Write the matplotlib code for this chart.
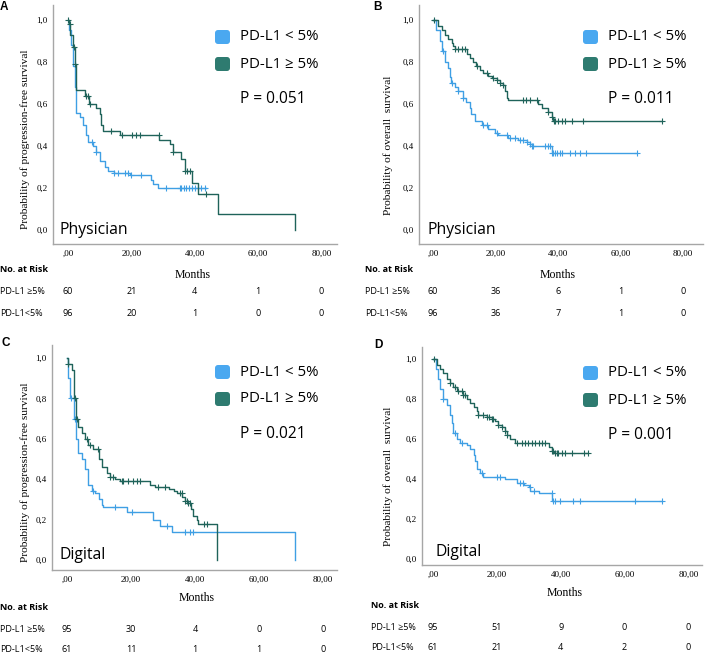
import numpy as np
import matplotlib.pyplot as plt
from matplotlib.patches import FancyBboxPatch
from matplotlib import transforms

W, H = 709, 657

LIGHT = '#3f9fe4'
DARK = '#1f635a'
SQ_LIGHT = '#4aa8f0'
SQ_DARK = '#2e7b70'
SANS = 'Open Sans'
SERIF = 'Liberation Serif'

# ---- data (time in months, survival from that time on) ----
# A: physician, PFS
a_hi_t = [0, 0.3, 0.8, 1.5, 2.1, 2.4, 2.6, 5.3, 6.8, 8.9, 10.0, 10.5, 11.05, 16.3, 28.9, 32.1, 33.2, 35.8, 36.8, 39.3, 41.05, 47.4, 71.6]
a_hi_s = [1, 0.98, 0.93, 0.87, 0.79, 0.72, 0.667, 0.64, 0.60, 0.58, 0.55, 0.50, 0.47, 0.45, 0.43, 0.41, 0.37, 0.34, 0.28, 0.225, 0.17, 0.075, 0.0]
a_hi_c = [0.1, 0.7, 1.8, 2.1, 5.6, 6.3, 7.0, 13.7, 17.2, 20.3, 21.6, 22.6, 28.7, 33.2, 36.8, 37.7, 38.4, 43.7]
a_lo_t = [0, 0.5, 1.0, 1.6, 2.1, 2.6, 3.7, 4.7, 5.8, 6.3, 7.9, 8.9, 10.0, 11.6, 12.6, 14.7, 19.5, 26.3, 26.8, 28.4, 43.7]
a_lo_s = [1, 0.95, 0.88, 0.78, 0.68, 0.556, 0.54, 0.50, 0.45, 0.42, 0.40, 0.37, 0.33, 0.30, 0.28, 0.27, 0.26, 0.24, 0.22, 0.20, 0.20]
a_lo_c = [7.7, 8.9, 14.7, 15.8, 17.9, 18.9, 20.0, 23.2, 31.1, 35.3, 35.8, 36.5, 37.4, 38.2, 39.2, 40.0, 41.1, 42.1, 43.2]

# B: physician, OS
b_hi_t = [0, 1.7, 2.8, 3.8, 4.9, 6.0, 6.5, 7.0, 10.8, 11.8, 12.9, 13.9, 15.0, 16.1, 17.7, 18.8, 20.4, 21.4, 22.5, 23.0, 23.6, 24.1, 33.7, 34.8, 36.9, 38.0, 38.5, 73.2]
b_hi_s = [1, 0.97, 0.95, 0.93, 0.91, 0.89, 0.875, 0.862, 0.84, 0.82, 0.80, 0.78, 0.76, 0.745, 0.735, 0.725, 0.715, 0.70, 0.69, 0.66, 0.63, 0.62, 0.60, 0.58, 0.56, 0.54, 0.52, 0.52]
b_hi_c = [0.3, 7.0, 8.1, 9.2, 10.2, 14.0, 17.2, 19.3, 20.4, 21.4, 22.5, 28.9, 29.9, 31.0, 33.2, 36.9, 38.0, 38.6, 39.0, 40.1, 41.2, 42.2, 44.4, 48.1, 73.2]
b_lo_t = [0, 0.8, 2.2, 2.8, 3.8, 4.9, 5.4, 5.9, 7.0, 8.1, 9.7, 10.7, 11.8, 12.3, 13.4, 15.6, 17.7, 19.8, 20.9, 24.1, 27.3, 30.0, 31.0, 31.6, 38.0, 65.2]
b_lo_s = [1, 0.95, 0.90, 0.85, 0.80, 0.77, 0.73, 0.70, 0.68, 0.66, 0.63, 0.61, 0.58, 0.55, 0.52, 0.50, 0.48, 0.46, 0.45, 0.44, 0.43, 0.42, 0.41, 0.40, 0.365, 0.365]
b_lo_c = [3.3, 6.0, 8.1, 9.7, 16.1, 17.2, 20.4, 23.6, 24.6, 26.2, 27.8, 28.9, 30.0, 31.0, 31.6, 32.1, 35.8, 36.9, 37.4, 38.1, 38.5, 39.0, 39.6, 40.6, 41.2, 43.8, 45.4, 47.0, 49.1, 65.2]

# C: digital, PFS
c_hi_t = [0, 0.4, 1.5, 2.3, 2.8, 3.5, 4.6, 5.6, 6.4, 8.1, 9.9, 10.9, 12.4, 13.4, 15.0, 16.6, 26.0, 27.6, 31.8, 33.4, 34.5, 35.9, 36.9, 37.9, 38.9, 39.5, 40.5, 41.0, 46.9]
c_hi_s = [1, 0.97, 0.94, 0.80, 0.70, 0.66, 0.63, 0.60, 0.57, 0.55, 0.50, 0.46, 0.43, 0.41, 0.40, 0.39, 0.37, 0.36, 0.35, 0.34, 0.33, 0.31, 0.29, 0.28, 0.25, 0.22, 0.20, 0.18, 0.0]
c_hi_c = [0.4, 2.5, 3.0, 6.1, 7.2, 9.8, 13.4, 14.5, 17.1, 17.6, 19.2, 20.7, 21.8, 22.8, 28.5, 30.6, 35.3, 35.8, 36.9, 37.4, 37.9, 38.4, 42.8, 43.9]
c_lo_t = [0, 0.4, 0.9, 2.2, 2.8, 3.5, 4.6, 5.6, 6.4, 6.7, 7.7, 8.8, 9.9, 10.8, 11.4, 18.6, 27.0, 29.0, 32.7, 71.3]
c_lo_s = [1, 0.90, 0.80, 0.70, 0.60, 0.53, 0.50, 0.45, 0.40, 0.37, 0.34, 0.33, 0.30, 0.27, 0.26, 0.24, 0.20, 0.17, 0.14, 0.0]
c_lo_c = [1.25, 2.5, 8.2, 15.0, 20.2, 31.1, 36.9, 38.4, 39.5]

# D: digital, OS
d_hi_t = [0, 1.1, 2.2, 3.2, 4.3, 5.3, 6.4, 7.4, 9.5, 10.5, 11.6, 12.7, 13.7, 14.2, 16.8, 18.4, 19.5, 20.5, 21.5, 22.6, 23.1, 24.2, 25.7, 36.2, 37.2, 37.8, 48.7]
d_hi_s = [1, 0.97, 0.95, 0.93, 0.90, 0.88, 0.86, 0.84, 0.82, 0.80, 0.78, 0.76, 0.74, 0.72, 0.71, 0.70, 0.69, 0.67, 0.66, 0.64, 0.62, 0.60, 0.58, 0.56, 0.54, 0.53, 0.53]
d_hi_c = [0.3, 5.3, 6.9, 7.9, 9.0, 9.5, 10.0, 14.2, 15.8, 16.8, 17.4, 18.4, 18.9, 20.5, 21.5, 22.6, 23.1, 26.3, 27.8, 28.9, 29.9, 31.0, 32.0, 33.1, 34.1, 35.1, 37.2, 37.7, 38.3, 38.8, 39.3, 40.4, 41.4, 43.5, 47.2, 48.7]
d_lo_t = [0, 0.8, 1.7, 2.2, 3.2, 4.3, 5.3, 5.9, 6.4, 7.4, 8.5, 10.6, 11.6, 12.7, 13.2, 13.7, 14.7, 15.8, 22.6, 26.3, 28.4, 30.0, 30.5, 33.1, 37.4, 71.8]
d_lo_s = [1, 0.95, 0.90, 0.85, 0.80, 0.77, 0.72, 0.68, 0.63, 0.60, 0.58, 0.57, 0.55, 0.52, 0.49, 0.45, 0.43, 0.41, 0.40, 0.38, 0.37, 0.36, 0.34, 0.33, 0.29, 0.29]
d_lo_c = [3.2, 6.9, 9.0, 15.3, 20.0, 21.0, 27.3, 28.3, 30.4, 31.5, 37.2, 37.7, 38.3, 39.9, 44.0, 46.1, 63.4, 71.8]

# numbers at risk
risk_t = [0, 20, 40, 60, 80]
risk_a = ([60, 21, 4, 1, 0], [96, 20, 1, 0, 0])
risk_b = ([60, 36, 6, 1, 0], [96, 36, 7, 1, 0])
risk_c = ([95, 30, 4, 0, 0], [61, 11, 1, 1, 0])
risk_d = ([95, 51, 9, 0, 0], [61, 21, 4, 2, 0])

p_values = ['P = 0.051', 'P = 0.011', 'P = 0.021', 'P = 0.001']
xticks = [0, 20, 40, 60, 80]
xticklabels = [',00', '20,00', '40,00', '60,00', '80,00']
yticks = [0, 0.2, 0.4, 0.6, 0.8, 1.0]
yticklabels = ['0,0', '0,2', '0,4', '0,6', '0,8', '1,0']

fig = plt.figure(figsize=(W / 100, H / 100), dpi=100)


def fx(x):
    return x / W


def fy(y):
    return 1 - y / H


def level(tc, times, surv):
    idx = np.searchsorted(times, tc, side='right') - 1
    return np.asarray(surv)[idx]


def panel(box, xlim, ylim, curves):
    l, t, r, b = box
    ax = fig.add_axes([fx(l), fy(b), (r - l) / W, (b - t) / H])
    for times, surv, cens, col in curves:
        ax.step(times, surv, where='post', color=col, lw=1.0)
        ax.plot(cens, level(cens, times, surv), ls='none', marker='+',
                ms=4.5, mew=0.8, color=col)
    ax.set_xlim(*xlim)
    ax.set_ylim(*ylim)
    ax.set_xticks(xticks)
    ax.set_xticklabels(xticklabels, family=SERIF, fontsize=6.5)
    ax.set_yticks(yticks)
    ax.set_yticklabels(yticklabels, family=SERIF, fontsize=6.5)
    ax.tick_params(length=0, pad=4)
    for s in ['top', 'right']:
        ax.spines[s].set_visible(False)
    for s in ['left', 'bottom']:
        ax.spines[s].set_color('#a6a6a6')
        ax.spines[s].set_linewidth(1.0)
    return ax


def square(x0, y0, col):
    fig.patches.append(FancyBboxPatch(
        (x0 / 100, (H - y0 - 14) / 100), 0.15, 0.14,
        boxstyle='round,pad=0,rounding_size=0.03',
        transform=fig.dpi_scale_trans, fc=col, ec='none'))


def decorate(ax, letter, lx, ly, sqx, sqy, pval, tag, tagx, tagy,
             ylabel, ylx, yly, monx, mony, riskx, risky, risk):
    fig.text(fx(lx), fy(ly), letter, fontsize=8.5, weight='bold',
             family='Liberation Sans', va='center', ha='left')
    square(sqx, sqy, SQ_LIGHT)
    square(sqx, sqy + 27, SQ_DARK)
    fig.text(fx(sqx + 25), fy(sqy + 7), 'PD-L1 < 5%', family=SANS,
             fontsize=10.8, va='center')
    fig.text(fx(sqx + 25), fy(sqy + 34), 'PD-L1 ≥ 5%', family=SANS,
             fontsize=10.8, va='center')
    fig.text(fx(sqx + 25), fy(sqy + 69), pval, family=SANS,
             fontsize=11.2, va='center')
    fig.text(fx(tagx), fy(tagy), tag, family=SANS, fontsize=11.3,
             va='center')
    fig.text(fx(ylx), fy(yly), ylabel, family=SERIF, fontsize=8.2,
             rotation=90, va='center', ha='center')
    fig.text(fx(monx), fy(mony), 'Months', family=SERIF, fontsize=8.5,
             va='center', ha='center')
    fig.text(fx(riskx), fy(risky), 'No. at Risk', family=SANS,
             fontsize=6.5, weight='bold', va='center')
    fig.text(fx(riskx), fy(risky + 22), 'PD-L1 ≥5%', family=SANS,
             fontsize=6.5, va='center')
    fig.text(fx(riskx), fy(risky + 43), 'PD-L1<5%', family=SANS,
             fontsize=6.5, va='center')
    tr = transforms.blended_transform_factory(ax.transData, fig.transFigure)
    for tx, n_hi, n_lo in zip(risk_t, risk[0], risk[1]):
        ax.text(tx, fy(risky + 22), str(n_hi), transform=tr, family=SANS,
                fontsize=6.5, ha='center', va='center', clip_on=False)
        ax.text(tx, fy(risky + 43), str(n_lo), transform=tr, family=SANS,
                fontsize=6.5, ha='center', va='center', clip_on=False)


pfs = 'Probability of progression-free survival'
os_ = 'Probability of overall  survival'

ax_a = panel((53, 5, 337, 244), (-4.7, 84.9), (-0.067, 1.071),
             [(a_lo_t, a_lo_s, a_lo_c, LIGHT), (a_hi_t, a_hi_s, a_hi_c, DARK)])
decorate(ax_a, 'A', 0, 7, 215, 30, p_values[0], 'Physician', 60, 230,
         pfs, 25, 139, 193, 275, 0, 270, risk_a)

ax_b = panel((419, 5, 703, 244), (-4.5, 86.4), (-0.067, 1.071),
             [(b_lo_t, b_lo_s, b_lo_c, LIGHT), (b_hi_t, b_hi_s, b_hi_c, DARK)])
decorate(ax_b, 'B', 373, 7, 583, 30, p_values[1], 'Physician', 428, 230,
         os_, 388, 145, 558, 275, 365, 270, risk_b)

ax_c = panel((52, 345, 337, 570), (-4.7, 84.4), (-0.0495, 1.064),
             [(c_lo_t, c_lo_s, c_lo_c, LIGHT), (c_hi_t, c_hi_s, c_hi_c, DARK)])
decorate(ax_c, 'C', 2, 343, 215, 365, p_values[2], 'Digital', 60, 555,
         pfs, 25, 472, 197, 598, 0, 607, risk_c)

ax_d = panel((422, 347, 702, 565), (-3.45, 84.3), (-0.03, 1.06),
             [(d_lo_t, d_lo_s, d_lo_c, LIGHT), (d_hi_t, d_hi_s, d_hi_c, DARK)])
decorate(ax_d, 'D', 374, 345, 583, 366, p_values[3], 'Digital', 435, 552,
         os_, 388, 476, 565, 593, 371, 605, risk_d)

fig.savefig('out.png', dpi=100)
